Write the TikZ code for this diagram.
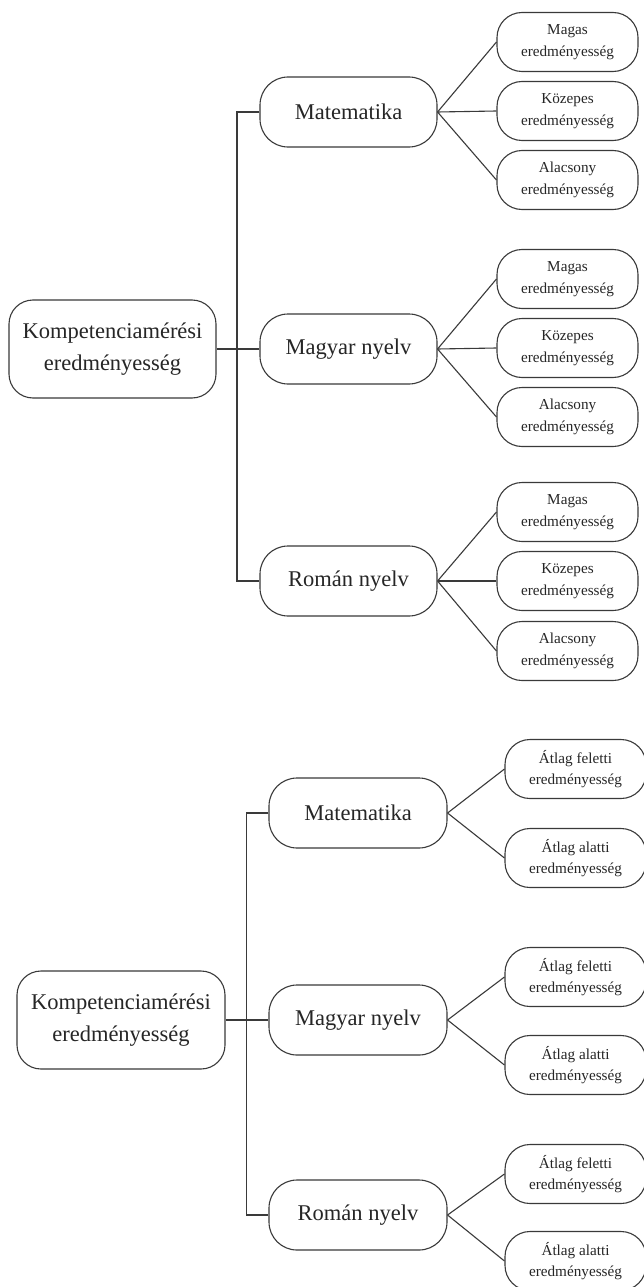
\documentclass[tikz,border=0pt]{standalone}
\usepackage{fontspec}
\setmainfont{Liberation Serif}
\definecolor{linec}{HTML}{3A3A3A}
\definecolor{textc}{HTML}{262626}
\begin{document}
\begin{tikzpicture}[x=1pt,y=-1pt,
  box/.style={draw=linec, line width=1.1pt, inner sep=0pt, align=center, text=textc, fill=white},
  rootbox/.style={box, rounded corners=24pt, minimum width=207pt, minimum height=98pt, font=\fontsize{22.5}{32}\selectfont},
  midbox/.style={box, rounded corners=28pt, minimum width=177pt, minimum height=70pt, font=\fontsize{22.5}{32}\selectfont},
  leafbox/.style={box, rounded corners=25pt, minimum width=141pt, minimum height=59pt, font=\fontsize{15.2}{21.5}\selectfont},
  conn/.style={draw=linec, line width=1.1pt}
]
\clip (0,0) rectangle (644,1287);
\fill[white] (0,0) rectangle (644,1287);

% ---------- top diagram ----------
\node[rootbox] (ra) at (112.5,349) {Kompetenciamérési\\eredményesség};
\node[midbox] (ma1) at (348.5,112) {Matematika};
\node[midbox] (ma2) at (348.5,349) {Magyar nyelv};
\node[midbox] (ma3) at (348.5,581) {Román nyelv};

\node[leafbox] (la11) at (567.5,42)  {Magas\\eredményesség};
\node[leafbox] (la12) at (567.5,111) {Közepes\\eredményesség};
\node[leafbox] (la13) at (567.5,180) {Alacsony\\eredményesség};
\node[leafbox] (la21) at (567.5,279) {Magas\\eredményesség};
\node[leafbox] (la22) at (567.5,348) {Közepes\\eredményesség};
\node[leafbox] (la23) at (567.5,417) {Alacsony\\eredményesség};
\node[leafbox] (la31) at (567.5,512) {Magas\\eredményesség};
\node[leafbox] (la32) at (567.5,581) {Közepes\\eredményesség};
\node[leafbox] (la33) at (567.5,651) {Alacsony\\eredményesség};

\draw[conn] (ma1.west) -| ([xshift=-22.5pt]ma3.west) -- (ma3.west);
\draw[conn] (ra.east) -- (ma2.west);
\foreach \m in {1,2,3}{
  \foreach \l in {1,2,3}{
    \draw[conn] (ma\m.east) -- (la\m\l.west);
  }
}

% ---------- bottom diagram ----------
\node[rootbox, minimum width=208pt] (rb) at (121,1020) {Kompetenciamérési\\eredményesség};
\node[midbox, minimum width=178pt] (mb1) at (358,813) {Matematika};
\node[midbox, minimum width=178pt] (mb2) at (358,1020) {Magyar nyelv};
\node[midbox, minimum width=178pt] (mb3) at (358,1215) {Román nyelv};

\node[leafbox] (lb11) at (575.5,769)  {Átlag feletti\\eredményesség};
\node[leafbox] (lb12) at (575.5,858)  {Átlag alatti\\eredményesség};
\node[leafbox] (lb21) at (575.5,977)  {Átlag feletti\\eredményesség};
\node[leafbox] (lb22) at (575.5,1065) {Átlag alatti\\eredményesség};
\node[leafbox] (lb31) at (575.5,1174) {Átlag feletti\\eredményesség};
\node[leafbox] (lb32) at (575.5,1261) {Átlag alatti\\eredményesség};

\draw[conn] (mb1.west) -| ([xshift=-22pt]mb3.west) -- (mb3.west);
\draw[conn] (rb.east) -- (mb2.west);
\foreach \m in {1,2,3}{
  \foreach \l in {1,2}{
    \draw[conn] (mb\m.east) -- (lb\m\l.west);
  }
}
\end{tikzpicture}
\end{document}
